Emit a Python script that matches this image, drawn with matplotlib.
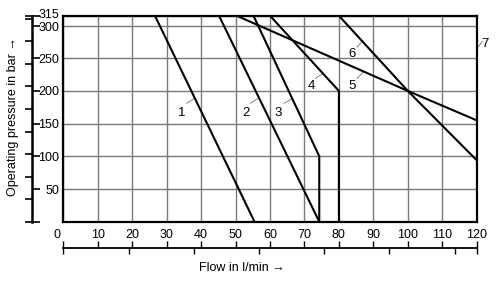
import numpy as np
import matplotlib
matplotlib.use("Agg")
import matplotlib.pyplot as plt
from matplotlib.transforms import ScaledTranslation

# characteristic curves: flow in l/min vs operating pressure in bar
flow_1 = [26.6, 55.5]
pres_1 = [315, 0]
flow_2 = [45.2, 74.3]
pres_2 = [315, 0]
flow_3 = [55.2, 74.3, 74.3]
pres_3 = [315, 100, 0]
flow_4 = [60.0, 80.0, 80.0]
pres_4 = [315, 200, 0]
flow_5 = [50.3, 100.0, 120.0]
pres_5 = [315, 200, 155]
flow_6 = [80.0, 100.0, 120.0]
pres_6 = [315, 200, 94]
curves = [(flow_1, pres_1), (flow_2, pres_2), (flow_3, pres_3),
          (flow_4, pres_4), (flow_5, pres_5), (flow_6, pres_6)]

# curve labels and their leader lines (data coords)
label_text = ["1", "2", "3", "4", "5", "6", "7"]
label_x = [34.4, 52.9, 62.4, 71.9, 83.7, 83.7, 122.5]
label_y = [166, 166, 166, 208, 207, 256, 271]
leader_x0 = [35.8, 54.3, 64.0, 73.2, 85.3, 85.3, 120.3]
leader_y0 = [181, 181, 181, 219, 219, 267, 266]
leader_x1 = [38.2, 56.7, 66.4, 75.4, 87.1, 86.9, 121.6]
leader_y1 = [189, 189, 188, 227, 229, 277, 276]

flow_ticks = np.arange(0, 121, 10)
pres_ticks = [0, 50, 100, 150, 200, 250, 300, 315]
pres_labels = ["", "50", "100", "150", "200", "250", "300", "315"]
gpm_ticks = np.arange(0, 31, 5)       # US gal/min on lower scale
psi_ticks = np.arange(0, 4501, 500)   # psi on left scale
L_PER_GAL = 3.78541
PSI_PER_BAR = 14.5038

plt.rcParams["font.family"] = ["Liberation Sans", "DejaVu Sans"]

fig = plt.figure(figsize=(5, 2.82), dpi=100)
ax = fig.add_axes([0.1266, 0.2138, 0.8268, 0.7305])
for fl, pr in curves:
    ax.plot(fl, pr, color="black", lw=1.5, solid_capstyle="butt", zorder=3)

for t, x, y in zip(label_text, label_x, label_y):
    ax.text(x, y, t, ha="center", va="center", fontsize=9.5, clip_on=False)
for xa, ya, xb, yb in zip(leader_x0, leader_y0, leader_x1, leader_y1):
    ax.plot([xa, xb], [ya, yb], color="#707070", lw=0.6, clip_on=False)

ax.set_xlim(0, 120)
ax.set_ylim(0, 315)
ax.set_xticks(flow_ticks)
ax.set_yticks(pres_ticks)
ax.set_yticklabels(pres_labels)
ax.grid(color="#7a7a7a", lw=1.0)
ax.tick_params(length=0, labelsize=9)
ax.tick_params(axis="x", pad=5)
ax.tick_params(axis="y", pad=3)
for s in ax.spines.values():
    s.set_linewidth(1.6)
# "0" sits a bit left of the frame corner, "315" a bit above its line
lbl0 = ax.get_xticklabels()[0]
lbl0.set_transform(lbl0.get_transform() + ScaledTranslation(-6 / 100, 0, fig.dpi_scale_trans))
lbl315 = ax.get_yticklabels()[-1]
lbl315.set_transform(lbl315.get_transform() + ScaledTranslation(0, 2 / 100, fig.dpi_scale_trans))
lbl300 = ax.get_yticklabels()[-2]
lbl300.set_transform(lbl300.get_transform() + ScaledTranslation(0, -0.5 / 100, fig.dpi_scale_trans))

# detached pressure scale: bar ticks inward, psi ticks outward
sy = ax.secondary_yaxis(-0.0757)
sy.spines["left"].set_linewidth(1.8)
sy.set_yticks(pres_ticks)
sy.set_yticks(list(psi_ticks / PSI_PER_BAR) + [315], minor=True)
sy.yaxis.remove_overlapping_locs = False
sy.tick_params(which="major", direction="in", length=5.5, width=1.2, labelleft=False)
sy.tick_params(which="minor", direction="out", length=5, width=1.2, labelleft=False)

# detached flow scale: l/min ticks up, gpm ticks down
sx = ax.secondary_xaxis(-0.128)
sx.spines["bottom"].set_linewidth(1.3)
sx.set_xticks(flow_ticks)
sx.set_xticks(list(gpm_ticks * L_PER_GAL) + [120], minor=True)
sx.xaxis.remove_overlapping_locs = False
sx.tick_params(which="major", direction="in", length=5, width=1.0, labelbottom=False)
sx.tick_params(which="minor", direction="out", length=4, width=1.0, labelbottom=False)

fig.text(0.484, 0.05, "Flow in l/min →", ha="center", va="center", fontsize=9)
fig.text(0.026, 0.585, "Operating pressure in bar →", ha="center", va="center",
         rotation=90, fontsize=9)

fig.savefig("out.png", dpi=100)
